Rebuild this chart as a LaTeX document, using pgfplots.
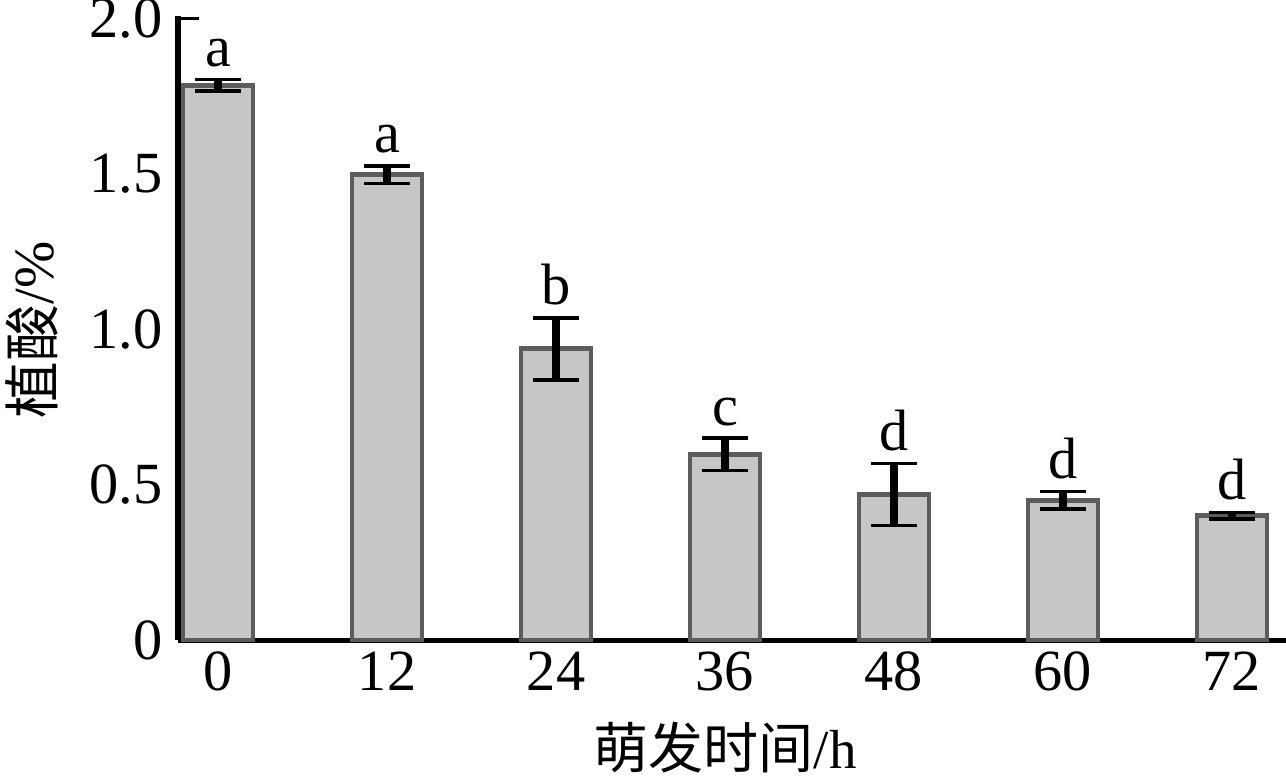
\documentclass[border=0pt]{standalone}
\usepackage{pgfplots}
\pgfplotsset{compat=1.18}
\usepackage{pgfplotstable}
\usepackage{fontspec}
\setmainfont{Liberation Serif}
\newfontfamily\cjk{Noto Sans CJK SC}
\definecolor{barfill}{RGB}{198,198,198}
\definecolor{barline}{RGB}{92,92,92}
\pgfplotstableread{
x val err lab
0 1.785 0.019 a
1 1.497 0.028 a
2 0.937 0.100 b
3 0.597 0.052 c
4 0.468 0.100 d
5 0.450 0.028 d
6 0.400 0.010 d
}\data
\begin{document}
\begin{tikzpicture}
\useasboundingbox (0,0) rectangle (385.8pt,234pt);
\begin{axis}[
  at={(53.4pt,42pt)}, anchor=south west,
  scale only axis, width=332.4pt, height=187.2pt,
  xmin=-0.237, xmax=6.32, ymin=0, ymax=2.008,
  axis lines=left, axis line style={-},
  x axis line style={line width=1.5pt},
  y axis line style={line width=1.8pt},
  xtick={0,1,2,3,4,5,6}, xticklabels={0,12,24,36,48,60,72},
  ytick={0,0.5,1,1.5,2}, yticklabels={0,0.5,1.0,1.5,2.0},
  xtick style={draw=none},
  ytick style={line width=1pt, black},
  tick align=inside, major tick length=6.3pt,
  /pgf/number format/assume math mode=true,
  tick label style={font=\fontsize{17.5}{20}\selectfont},
  yticklabel style={xshift=-1.2pt},
  xlabel={{\cjk 萌发时间}/h},
  ylabel={{\cjk 植酸}/\%},
  xlabel style={at={(axis description cs:0.494,-0.173)}, anchor=center, font=\fontsize{16.5}{20}\selectfont},
  ylabel style={at={(axis description cs:-0.132,0.497)}, anchor=center, rotate=0, font=\fontsize{17}{20}\selectfont},
  clip=false,
]
\addplot[ybar, bar width=21pt, fill=barfill, draw=barline, line width=1.4pt,
  error bars/.cd, y dir=both, y explicit,
  error bar style={line width=2.2pt, black},
  error mark options={rotate=90, mark size=7pt, line width=1.1pt, black}]
  table[x=x, y=val, y error=err] {\data};
\addplot[only marks, mark=none, nodes near coords, point meta=explicit symbolic,
  every node near coord/.append style={anchor=south, inner sep=0pt, yshift=3.6pt, font=\fontsize{17.5}{20}\selectfont, text=black}]
  table[x=x, y expr=\thisrow{val}+\thisrow{err}, meta=lab] {\data};
\end{axis}
\end{tikzpicture}
\end{document}
